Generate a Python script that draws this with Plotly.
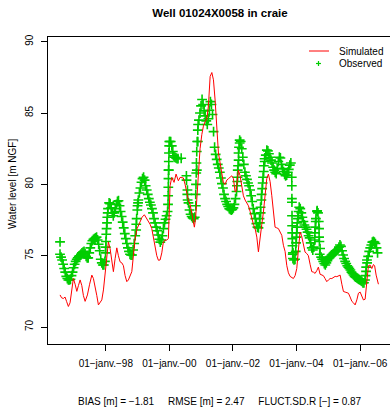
import pandas as pd
import plotly.graph_objects as go

# ---- observed water level: regular 12-day readings (None = no reading) ----
obs_start = "1996-07-24"
obs_step_days = 12
obs_level = [
    75.1, 74.9, 74.7, 74.4, 74.1, 73.85, 73.55, 73.4, 73.3, 73.3,
    73.35, 73.6, 73.85, 74.15, 74.4, 74.6, 74.75, 74.85, 74.95, 75.0,
    75.1, 75.2, 75.25, 75.3, 75.15, 74.95, 74.85, 74.85, 75.2, 75.55,
    75.85, 76.05, 76.15, 76.2, 76.25, 76.3, 76.1, 75.8, 75.35, 74.75,
    74.5, 74.35, 74.35, 74.6, 76.0, 77.3, 78.3, 78.7, 78.65, 78.35,
    78.0, 77.8, 78.0, 78.3, 78.6, 78.8, 78.85, 78.5, 78.1, 77.75,
    77.35, 76.95, 76.55, 76.2, 75.85, 75.55, 75.3, 75.1, 75.05, 75.05,
    75.4, 75.85, 76.4, 77.2, 78.2, 78.9, 79.4, 79.75, 80.15, 80.4,
    80.5, 80.3, 79.9, 79.6, 79.3, 79.0, 78.75, 78.55, 78.3, 78.0,
    77.6, 77.3, 77.0, 76.75, 76.45, 76.15, 75.95, 76.1, 76.4, 76.9,
    77.3, 77.55, 77.8, 78.1, 81.0, 83.0, 83.0, 82.7, 82.3, 82.0,
    81.9, 81.85, 81.8, 81.8, None, None, 81.83, None, None, None,
    None, 80.6, 79.6, 78.7, 78.2, 77.9, 77.75, 77.65, 77.6, 77.7,
    78.5, 81.0, 83.0, 84.5, 85.0, 85.5, 85.95, 85.6, 85.15, 84.8,
    84.45, 84.2, 84.6, 85.2, 85.8, 85.6, 84.9, 83.7, 82.6, 82.1,
    81.75, 81.4, 81.15, 80.85, 80.45, 80.05, 79.75, 79.3, 79.0, 78.8,
    78.6, 78.45, 78.3, 78.25, 78.2, 78.25, 78.35, 78.6, 79.0, 79.5,
    80.5, 81.7, 82.9, 83.0, 82.5, 81.9, 81.4, 80.85, 80.6, 80.35,
    80.1, 79.9, 79.6, 79.2, 78.8, 78.3, 77.95, 77.6, 77.25, 77.0,
    76.95, 77.6, 78.4, 79.3, 80.1, 80.9, 81.6, 82.05, 82.4, 82.35,
    82.15, 81.9, 81.7, 81.5, 81.2, 81.0, 80.85, 80.75, 81.1, 81.6,
    81.9, 81.85, 81.4, 81.1, 80.9, 80.7, 80.6, 80.65, 80.85, 81.05,
    81.35, 81.5, 79.0, 75.2, 74.7, 74.75, 75.9, 77.0, 77.8, 78.4,
    78.3, 78.0, 77.7, 77.4, 77.15, 77.0, 76.85, 76.65, 76.4, 76.25,
    75.9, 75.55, 75.4, 75.6, 76.6, 77.6, 78.1, 78.0, 76.9, 75.5,
    74.9, 74.75, 74.6, 74.45, 74.35, 74.5, 74.65, 74.8, 74.9, 74.95,
    75.05, 75.1, 75.15, 75.25, 75.3, 75.35, 75.45, 75.6, 75.75, 75.65,
    75.35, 75.05, 74.8, 74.6, 74.45, 74.3, 74.2, 74.1, 74.0, 73.85,
    73.75, 73.65, 73.55, 73.5, 73.45, 73.4, 73.35, 73.3, 73.25, 73.2,
    73.1, 73.1, 73.3, 73.9, 74.5, 74.95, 75.3, 75.55, 75.75, 75.95,
    76.0, 75.95, 75.85, 75.55, 75.2]

# ---- extra observed readings (decimal years) during fast rises / drops ----
obs_extra_year = [1996.562,
                  1997.990, 1998.000, 1998.015, 1998.025, 1998.048, 1998.060,
                  1998.955, 1998.970, 1999.000, 1999.015,
                  1999.958, 1999.962, 1999.967, 1999.972, 1999.977, 1999.982, 1999.988, 1999.995, 2000.002,
                  2000.540, 2000.565, 2000.575,
                  2000.830, 2000.838, 2000.846, 2000.852, 2000.862, 2000.875, 2000.895, 2000.905,
                  2002.125, 2002.135, 2002.150, 2002.160, 2002.175, 2002.190, 2002.210,
                  2002.845, 2002.870, 2002.893, 2002.918, 2002.945, 2002.970, 2002.995,
                  2003.850, 2003.852, 2003.855, 2003.858, 2003.861, 2003.864, 2003.867, 2003.872, 2003.880, 2003.887,
                  2003.975, 2003.995, 2004.005, 2004.025, 2004.045, 2004.065,
                  2004.575, 2004.590, 2004.605, 2004.650, 2004.700, 2004.710, 2004.720, 2004.730,
                  2006.170, 2006.190, 2006.215]
obs_extra_level = [75.97,
                   75.2, 75.6, 76.5, 76.9, 77.7, 78.0,
                   76.8, 77.6, 78.5, 78.7,
                   78.6, 79.2, 79.8, 80.4, 81.0, 81.6, 82.2, 82.7, 83.0,
                   80.3, 79.3, 78.9,
                   79.3, 80.0, 80.8, 81.5, 82.3, 83.0, 83.8, 84.2,
                   79.9, 80.2, 81.0, 81.3, 82.2, 82.6, 83.1,
                   77.3, 78.0, 78.9, 79.7, 80.5, 81.3, 81.8,
                   80.5, 79.9, 78.75, 77.8, 77.1, 76.6, 76.2, 75.7, 75.1, 74.8,
                   75.3, 76.3, 76.6, 77.3, 77.6, 78.1,
                   76.1, 77.0, 77.4, 78.15, 77.4, 76.3, 76.0, 75.1,
                   73.6, 74.2, 74.7]

# ---- simulated water level (decimal years) ----
sim_year = [1996.562, 1996.610, 1996.666, 1996.720, 1996.767, 1996.824, 1996.877, 1996.924, 1996.981, 1997.034,
            1997.088, 1997.138, 1997.192, 1997.245, 1997.295, 1997.349, 1997.421, 1997.490, 1997.560, 1997.610,
            1997.663, 1997.717, 1997.767, 1997.821, 1997.874, 1997.925, 1997.978, 1998.031, 1998.082, 1998.135,
            1998.189, 1998.239, 1998.293, 1998.346, 1998.396, 1998.450, 1998.503, 1998.554, 1998.607, 1998.661,
            1998.711, 1998.764, 1998.818, 1998.868, 1998.922, 1998.985, 1999.079, 1999.142, 1999.214, 1999.290,
            1999.340, 1999.394, 1999.447, 1999.497, 1999.551, 1999.604, 1999.655, 1999.708, 1999.762, 1999.812,
            1999.865, 1999.919, 1999.969, 1999.997, 2000.023, 2000.076, 2000.148, 2000.211, 2000.259, 2000.284,
            2000.337, 2000.391, 2000.441, 2000.494, 2000.548, 2000.598, 2000.652, 2000.705, 2000.756, 2000.787,
            2000.825, 2000.863, 2000.913, 2000.966, 2001.020, 2001.070, 2001.124, 2001.177, 2001.227, 2001.281,
            2001.334, 2001.385, 2001.438, 2001.492, 2001.542, 2001.595, 2001.649, 2001.699, 2001.753, 2001.806,
            2001.857, 2001.910, 2001.963, 2002.014, 2002.067, 2002.099, 2002.140, 2002.171, 2002.225, 2002.278,
            2002.328, 2002.382, 2002.435, 2002.486, 2002.539, 2002.593, 2002.643, 2002.696, 2002.750, 2002.800,
            2002.854, 2002.907, 2002.957, 2003.011, 2003.064, 2003.115, 2003.168, 2003.222, 2003.272, 2003.325,
            2003.379, 2003.429, 2003.483, 2003.536, 2003.587, 2003.640, 2003.694, 2003.744, 2003.797, 2003.851,
            2003.901, 2003.955, 2004.008, 2004.058, 2004.112, 2004.159, 2004.216, 2004.269, 2004.323, 2004.373,
            2004.427, 2004.480, 2004.530, 2004.584, 2004.637, 2004.688, 2004.741, 2004.795, 2004.845, 2004.898,
            2004.952, 2005.002, 2005.056, 2005.109, 2005.159, 2005.213, 2005.266, 2005.317, 2005.370, 2005.424,
            2005.474, 2005.527, 2005.581, 2005.631, 2005.685, 2005.738, 2005.788, 2005.842, 2005.895, 2005.946,
            2005.999, 2006.053, 2006.103, 2006.157, 2006.210, 2006.260, 2006.314, 2006.367, 2006.418, 2006.455,
            2006.503, 2006.540, 2006.575]
sim_level = [72.25, 72.05, 72.0, 72.1, 71.8, 71.44, 71.7, 72.6, 73.4, 73.0,
             72.5, 72.9, 73.3, 72.9, 72.2, 71.8, 72.25, 73.0, 73.64, 73.4,
             72.9, 72.2, 71.55, 71.7, 71.9, 72.6, 73.64, 74.9, 75.97, 75.5,
             74.6, 73.88, 74.8, 75.55, 75.0, 74.57, 74.5, 74.3, 73.6, 73.18,
             73.3, 73.6, 73.88, 75.0, 76.2, 76.9, 77.36, 77.7, 77.87, 77.6,
             77.47, 77.2, 76.9, 76.2, 75.6, 75.0, 74.68, 74.7, 75.2, 75.97,
             76.08, 76.1, 76.2, 78.5, 79.9, 80.49, 80.14, 80.72, 80.4, 80.25,
             80.49, 80.49, 80.45, 80.0, 79.3, 78.9, 78.6, 78.05, 77.3, 77.0,
             77.6, 78.8, 81.0, 82.5, 83.5, 84.08, 84.4, 84.6, 85.5, 87.56,
             87.84, 87.33, 85.9, 83.6, 82.2, 81.5, 80.9, 80.1, 80.0, 80.3,
             80.4, 80.5, 80.6, 80.4, 79.5, 79.5, 80.25, 81.0, 80.6, 79.7,
             79.2, 78.9, 78.7, 78.5, 78.1, 77.6, 77.2, 76.9, 76.3, 75.27,
             76.5, 77.2, 78.05, 79.45, 80.4, 80.72, 80.2, 79.2, 78.05, 77.0,
             76.95, 76.9, 76.66, 76.43, 75.73, 75.3, 74.3, 73.8, 73.55, 73.45,
             73.4, 73.6, 74.1, 75.4, 76.66, 76.4, 75.8, 75.25, 75.15, 75.0,
             74.4, 73.88, 73.85, 73.76, 73.95, 74.2, 73.7, 73.65, 73.6, 73.4,
             73.18, 73.3, 73.4, 73.4, 73.45, 73.55, 73.53, 73.6, 73.64, 73.0,
             72.49, 72.45, 72.4, 72.37, 72.1, 71.8, 71.7, 71.55, 71.9, 72.37,
             72.45, 72.2, 71.9, 71.95, 73.2, 74.3, 74.34, 74.1, 74.38, 74.3,
             73.64, 73.3, 73.0]

tick_dates = ["1998-01-01", "2000-01-01", "2002-01-01", "2004-01-01", "2006-01-01"]
tick_labels = ["01\u2212janv.\u221298", "01\u2212janv.\u221200", "01\u2212janv.\u221202",
               "01\u2212janv.\u221204", "01\u2212janv.\u221206"]
y_ticks = [70, 75, 80, 85, 90]

title_text = "Well 01024X0058 in craie"
stats_text = "BIAS [m] = \u22121.81     RMSE [m] = 2.47     FLUCT.SD.R [\u2212] = 0.87"


def to_dates(years):
    out = []
    for y in years:
        yi = int(y)
        out.append(pd.Timestamp(year=yi, month=1, day=1) + pd.Timedelta(days=(y - yi) * 365.25))
    return out


obs_dates = list(pd.date_range(obs_start, periods=len(obs_level), freq=f"{obs_step_days}D"))
obs_x = obs_dates + to_dates(obs_extra_year)
obs_y = obs_level + obs_extra_level

FONT = "Liberation Sans, Arial, Helvetica, sans-serif"
GREEN = "#00CD00"

fig = go.Figure()
fig.add_trace(go.Scatter(
    x=obs_x, y=obs_y, mode="markers", name="Observed",
    marker=dict(symbol="cross-thin", size=7, color=GREEN, line=dict(color=GREEN, width=1.6)),
    showlegend=False))
fig.add_trace(go.Scatter(
    x=to_dates(sim_year), y=sim_level, mode="lines", name="Simulated",
    line=dict(color="#FF0000", width=1), showlegend=False))

L, T, B, W, H = 48, 37, 68, 390, 412
pw, ph = W - L, H - T - B


def px(xp):
    return (xp - L) / pw


def py(yp):
    return (H - B - yp) / ph


fig.update_layout(
    width=W, height=H,
    margin=dict(l=L, r=0, t=T, b=B, pad=0),
    paper_bgcolor="white", plot_bgcolor="white",
    font=dict(family=FONT, size=10, color="black"),
    title=dict(text="<b>" + title_text + "</b>", x=220 / W, xanchor="center",
               y=1 - 13 / H, yanchor="middle", yref="container",
               font=dict(family=FONT, size=11.5, color="black")),
    xaxis=dict(type="date", range=["1996-03-08", "2006-12-10"],
               tickvals=tick_dates, ticktext=tick_labels, tickangle=0,
               ticks="outside", ticklen=6, tickwidth=1, tickcolor="black",
               showline=True, linecolor="black", linewidth=1, mirror=True,
               showgrid=False, zeroline=False, ticklabelstandoff=4,
               tickfont=dict(family=FONT, size=10, color="black")),
    yaxis=dict(range=[68.81, 90.33], tickvals=y_ticks, tickangle=-90,
               ticks="outside", ticklen=6, tickwidth=1, tickcolor="black",
               showline=True, linecolor="black", linewidth=1, mirror=False,
               showgrid=False, zeroline=False, ticklabelstandoff=4,
               tickfont=dict(family=FONT, size=10, color="black")),
)

annotations = [
    dict(text="Water level [m NGF]", xref="paper", yref="paper", x=px(12), y=py(184),
         textangle=-90, showarrow=False, xanchor="center", yanchor="middle",
         font=dict(family=FONT, size=10, color="black")),
    dict(text=stats_text, xref="paper", yref="paper", x=px(220), y=py(401),
         showarrow=False, xanchor="center", yanchor="middle",
         font=dict(family=FONT, size=10, color="black")),
    dict(text="Simulated", xref="paper", yref="paper", x=px(337), y=py(51),
         showarrow=False, xanchor="left", yanchor="middle",
         font=dict(family=FONT, size=10, color="black")),
    dict(text="Observed", xref="paper", yref="paper", x=px(337), y=py(63.5),
         showarrow=False, xanchor="left", yanchor="middle",
         font=dict(family=FONT, size=10, color="black")),
]
fig.update_layout(annotations=annotations)

shapes = [
    dict(type="line", xref="paper", yref="paper", x0=px(309), x1=px(329), y0=py(51), y1=py(51),
         line=dict(color="#FF0000", width=1)),
    dict(type="line", xref="paper", yref="paper", x0=px(316), x1=px(321), y0=py(63.5), y1=py(63.5),
         line=dict(color=GREEN, width=1.2)),
    dict(type="line", xref="paper", yref="paper", x0=px(318.5), x1=px(318.5), y0=py(61), y1=py(66),
         line=dict(color=GREEN, width=1.2)),
]
fig.update_layout(shapes=shapes)

fig.write_html("out.html",
               config={"displayModeBar": False},
               post_script="document.body.style.margin='0';document.body.style.overflow='hidden';")
